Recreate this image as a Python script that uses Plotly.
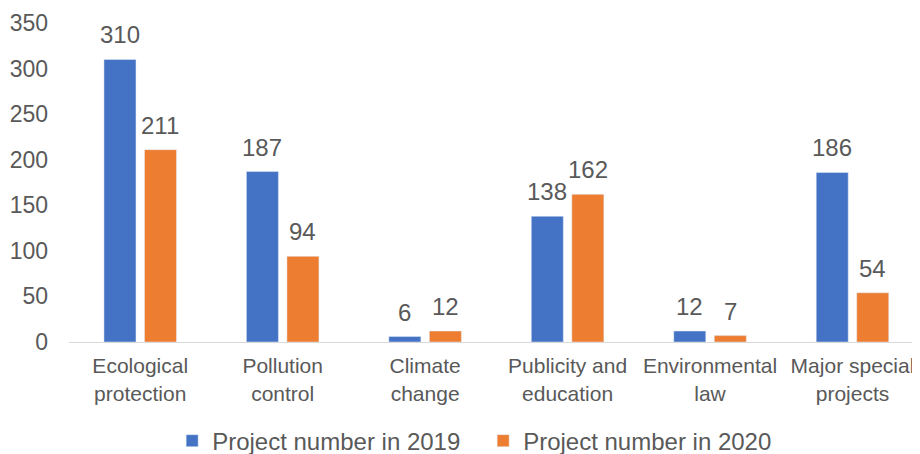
import plotly.graph_objects as go

categories = ["Ecological<br>protection", "Pollution<br>control", "Climate<br>change",
              "Publicity and<br>education", "Environmental<br>law", "Major special<br>projects"]
values_2019 = [310, 187, 6, 138, 12, 186]
values_2020 = [211, 94, 12, 162, 7, 54]
y_ticks = [0, 50, 100, 150, 200, 250, 300, 350]

font_family = "Liberation Sans, Arial, sans-serif"
text_color = "#595959"
bargap = 0.431
bargroupgap = 0.21

fig = go.Figure()
fig.add_trace(go.Bar(name="Project number in 2019", x=categories, y=values_2019,
                     marker_color="#4472C4"))
fig.add_trace(go.Bar(name="Project number in 2020", x=categories, y=values_2020,
                     marker_color="#ED7D31"))

# data labels via annotations, offset from bar tops
half = (1 - bargap) / 4
for i, (v1, v2) in enumerate(zip(values_2019, values_2020)):
    for v, dx in ((v1, -half), (v2, half)):
        fig.add_annotation(x=i + dx, y=v, xref="x", yref="y", text=str(v), showarrow=False,
                           yanchor="bottom", yshift=9,
                           font=dict(size=24, color=text_color, family=font_family))

fig.update_layout(
    width=912, height=446,
    margin=dict(l=61, r=0, t=15, b=112, autoexpand=False),
    plot_bgcolor="white", paper_bgcolor="white",
    barmode="group", bargap=bargap, bargroupgap=bargroupgap,
    font=dict(family=font_family, color=text_color, size=21),
    showlegend=True,
    legend=dict(orientation="h", xref="container", yref="container",
                x=0.521, xanchor="center", y=0.029, yanchor="middle",
                font=dict(size=24, color=text_color), itemwidth=30,
                entrywidth=266, entrywidthmode="pixels"),
    xaxis=dict(showline=True, linecolor="#D9D9D9", linewidth=1, ticks="",
               range=[-0.5, 5.474], automargin=False, ticklabelstandoff=5,
               tickfont=dict(size=21, color=text_color)),
    yaxis=dict(range=[0, 350], tickvals=y_ticks, showgrid=False, zeroline=False,
               showline=False, automargin=False,
               tickfont=dict(size=23, color=text_color), ticklabelstandoff=20),
)

fig.write_html("out.html")
